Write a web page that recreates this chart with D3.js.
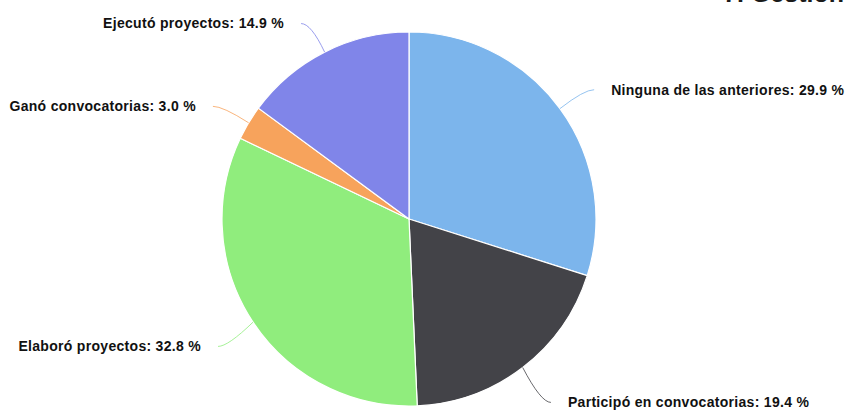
<!DOCTYPE html>
<html>
<head>
<meta charset="utf-8">
<script src="https://cdn.jsdelivr.net/npm/d3@7"></script>
<style>
  body { margin: 0; background: #fff; }
  svg { display: block; }
</style>
</head>
<body>
<div id="chart"></div>
<script>
// data
var categories = ["Ninguna de las anteriores", "Participó en convocatorias", "Elaboró proyectos", "Ganó convocatorias", "Ejecutó proyectos"];
var values = [29.9, 19.4, 32.8, 3.0, 14.9];
var colors = ["#7cb5ec", "#434348", "#90ed7d", "#f7a35c", "#8085e9"];
var title = "7. Gestión";

var width = 849, height = 411;
var cx = 409, cy = 219, radius = 187;

var svg = d3.select("#chart").append("svg")
  .attr("width", width)
  .attr("height", height);

// title, cut at the top like in the source
svg.append("text")
  .attr("x", 844)
  .attr("y", 2)
  .attr("text-anchor", "end")
  .style("font-family", "'Liberation Sans', Arial, sans-serif")
  .style("font-weight", "bold")
  .style("font-size", "25px")
  .style("fill", "#1a1a1a")
  .text(title);

var data = categories.map(function(c, i) { return {name: c, value: values[i], color: colors[i]}; });

var pie = d3.pie()
  .value(function(d) { return d.value; })
  .sort(null);

var arcs = pie(data);
var arc = d3.arc().innerRadius(0).outerRadius(radius);

var g = svg.append("g")
  .attr("transform", "translate(" + cx + "," + cy + ")");

g.selectAll("path.slice")
  .data(arcs)
  .enter()
  .append("path")
  .attr("class", "slice")
  .attr("d", arc)
  .attr("fill", function(d) { return d.data.color; })
  .attr("stroke", "#fff")
  .attr("stroke-width", 1.2);

// labels with soft connectors
function midAngle(d) { return (d.startAngle + d.endAngle) / 2; }

var labelDist = 30;

arcs.forEach(function(d) {
  var a = midAngle(d);
  var right = Math.sin(a) > 0;
  var lower = Math.cos(a) < 0;
  var edge = [Math.sin(a) * radius, -Math.cos(a) * radius];
  // labels below the centre sit a bit further out vertically
  var ry = radius + labelDist + (lower ? 14 : 2);
  var lp = [Math.sin(a) * (radius + labelDist), -Math.cos(a) * ry];
  var ex = lp[0] + (right ? 10 : -10);
  var ey = lp[1];

  g.append("path")
    .attr("d", "M" + edge[0] + "," + edge[1] + " Q" + lp[0] + "," + lp[1] + " " + ex + "," + ey)
    .attr("fill", "none")
    .attr("stroke", d.data.color)
    .attr("stroke-opacity", 0.8)
    .attr("stroke-width", 1);

  g.append("text")
    .attr("x", lp[0] + (right ? 27 : -27))
    .attr("y", ey)
    .attr("dy", "0.35em")
    .attr("text-anchor", right ? "start" : "end")
    .style("font-family", "'Liberation Sans', Arial, sans-serif")
    .style("font-weight", "bold")
    .style("font-size", "14px")
    .style("letter-spacing", "0.3px")
    .style("fill", "#111")
    .style("stroke", "#fff")
    .style("stroke-width", 2)
    .style("paint-order", "stroke fill")
    .text(d.data.name + ": " + d3.format(".1f")(d.data.value) + " %");
});
</script>
</body>
</html>
